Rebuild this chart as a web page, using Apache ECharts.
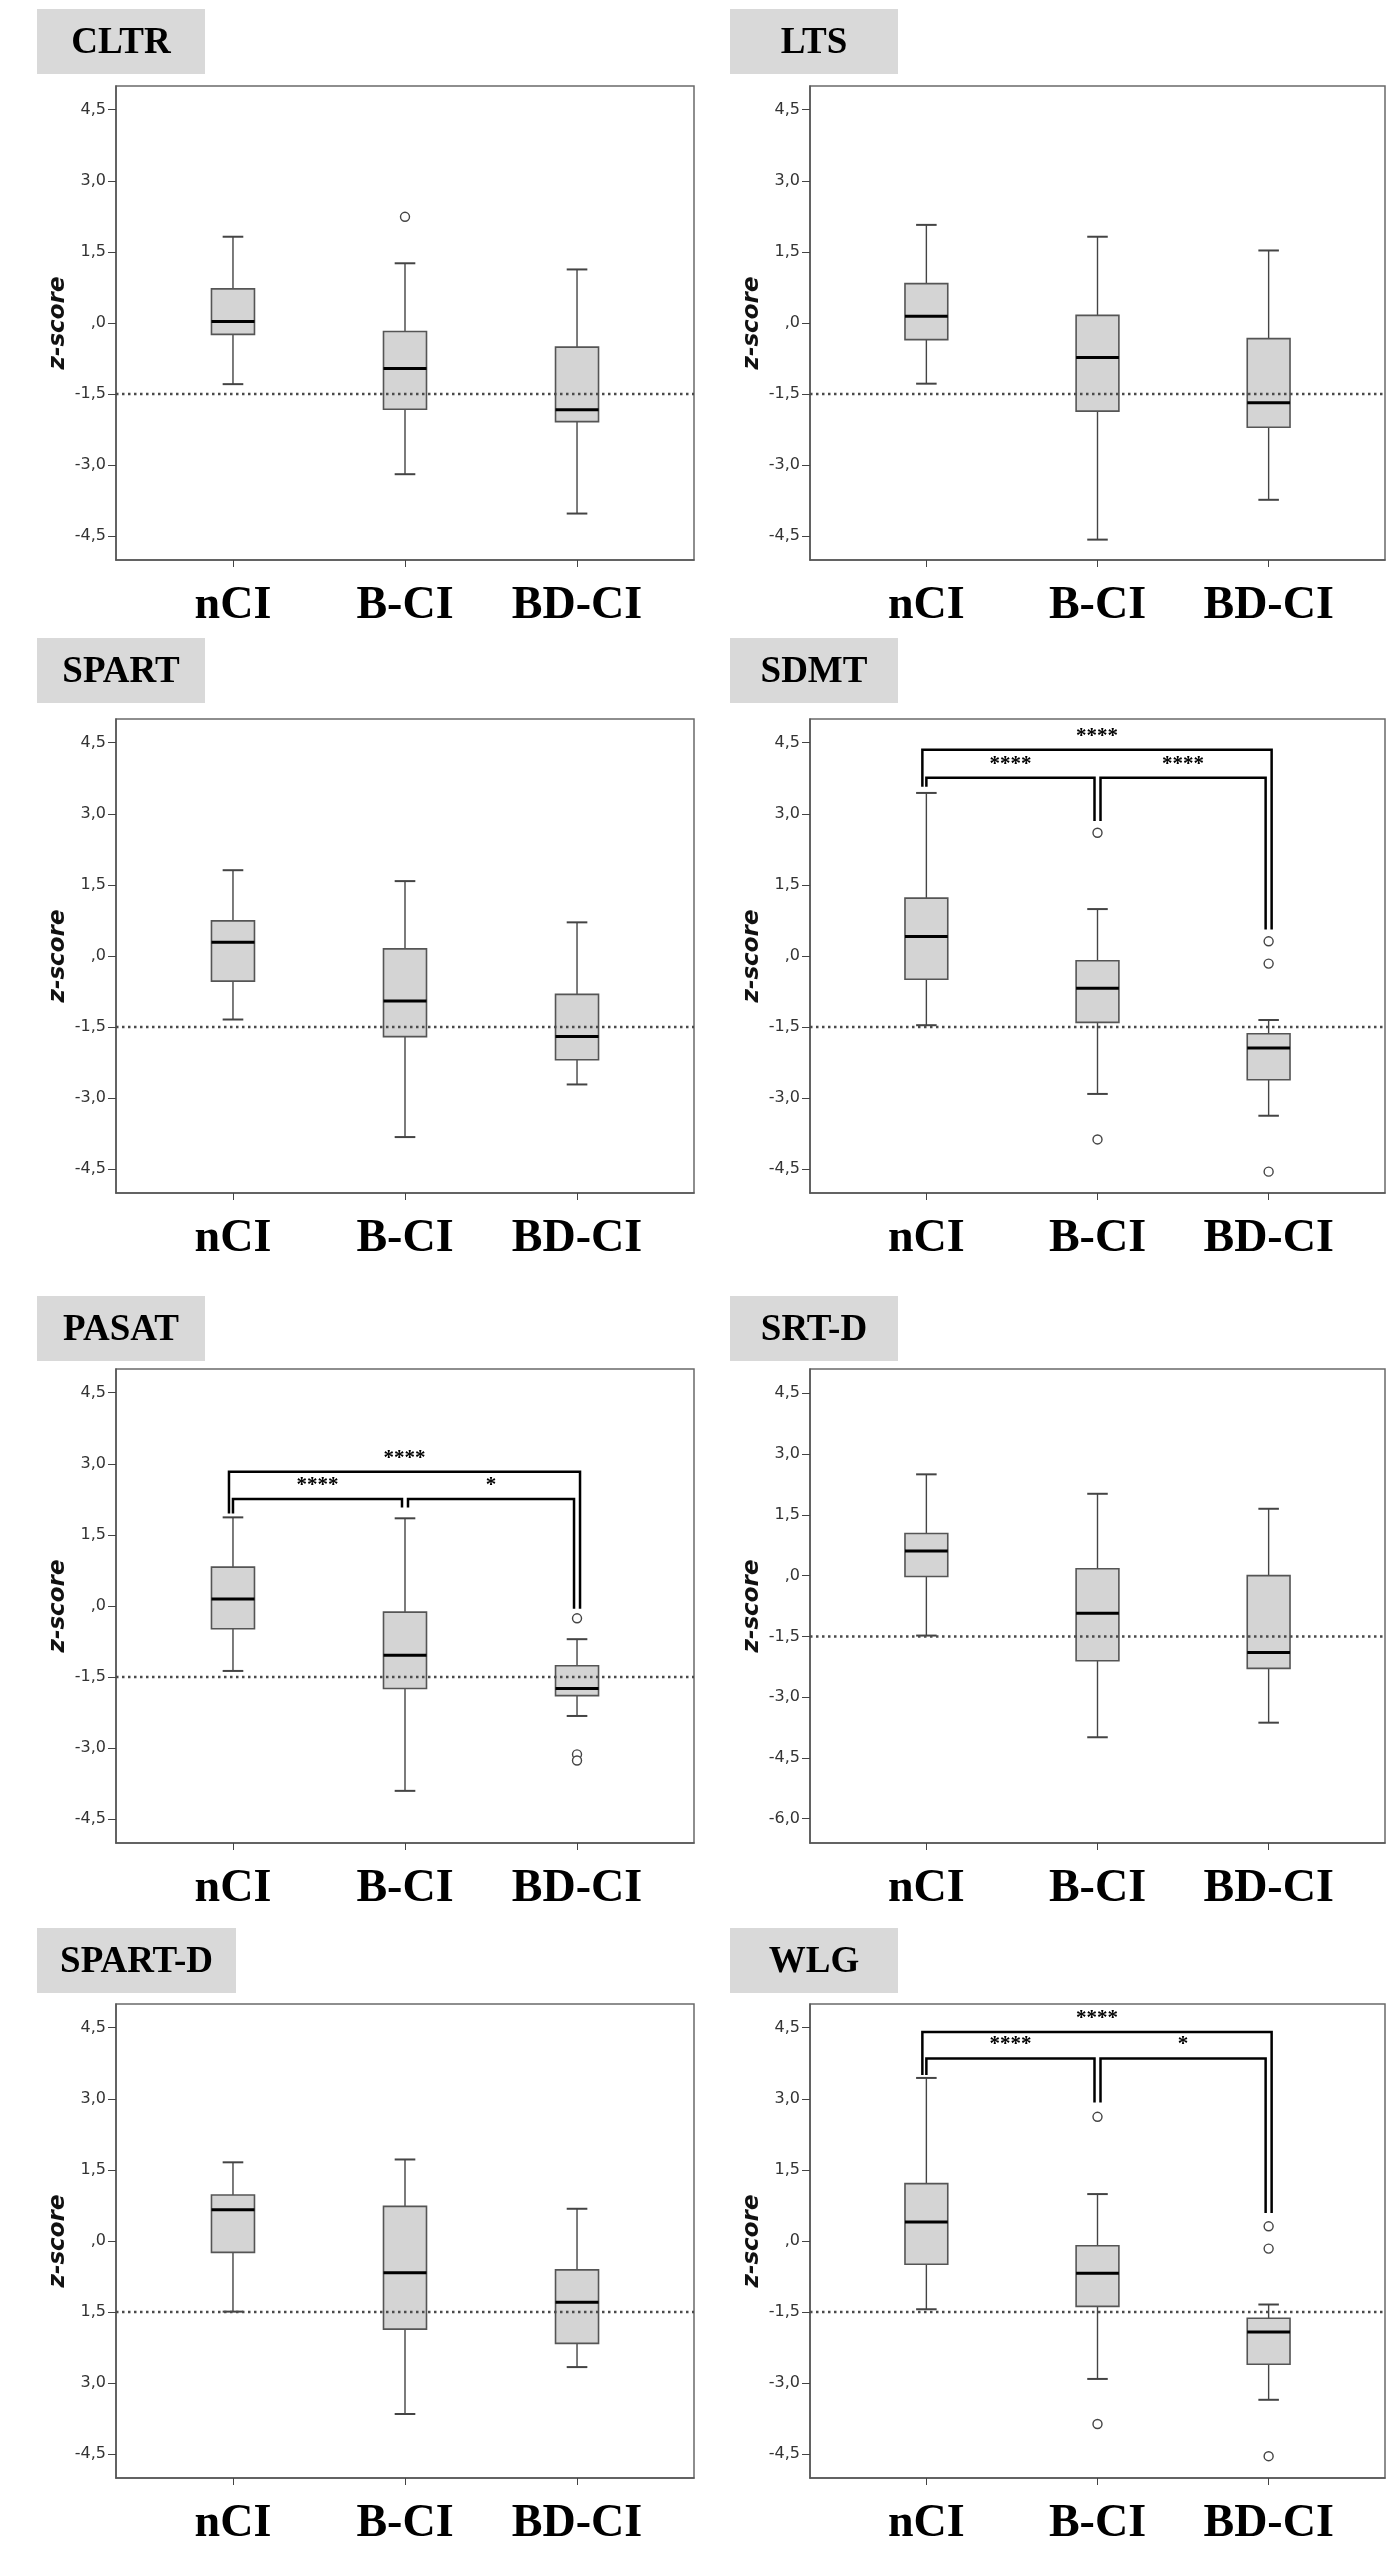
<!DOCTYPE html>
<html lang="en">
<head>
<meta charset="UTF-8">
<title>z-score boxplots</title>
<script src="https://cdn.jsdelivr.net/npm/echarts@6/dist/echarts.min.js"></script>
<style>
    body { margin: 0; background: #fff; }
    #main { width: 1400px; height: 2550px; }
</style>
</head>
<body>
<div id="main"></div>
<script>
var groups = ['nCI', 'B-CI', 'BD-CI'];
var tests = ['CLTR', 'LTS', 'SPART', 'SDMT', 'PASAT', 'SRT-D', 'SPART-D', 'WLG'];

// [groupIndex, min, Q1, median, Q3, max]
var cltrBox = [[0, -1.29, -0.24, 0.03, 0.72, 1.82], [1, -3.19, -1.82, -0.96, -0.18, 1.26], [2, -4.02, -2.08, -1.83, -0.51, 1.13]];
var ltsBox = [[0, -1.28, -0.35, 0.14, 0.83, 2.07], [1, -4.57, -1.86, -0.73, 0.16, 1.82], [2, -3.73, -2.20, -1.68, -0.33, 1.53]];
var spartBox = [[0, -1.34, -0.53, 0.29, 0.74, 1.81], [1, -3.82, -1.70, -0.95, 0.15, 1.58], [2, -2.71, -2.19, -1.70, -0.81, 0.71]];
var sdmtBox = [[0, -1.46, -0.49, 0.41, 1.22, 3.44], [1, -2.91, -1.40, -0.68, -0.10, 0.99], [2, -3.37, -2.61, -1.94, -1.64, -1.35]];
var pasatBox = [[0, -1.37, -0.48, 0.15, 0.82, 1.87], [1, -3.90, -1.74, -1.04, -0.13, 1.85], [2, -2.32, -1.89, -1.74, -1.26, -0.70]];
var srtdBox = [[0, -1.48, -0.02, 0.61, 1.04, 2.50], [1, -3.99, -2.10, -0.93, 0.17, 2.02], [2, -3.63, -2.29, -1.90, 0.00, 1.65]];
var spartdBox = [[0, -1.49, -0.24, 0.66, 0.97, 1.66], [1, -3.65, -1.86, -0.67, 0.73, 1.72], [2, -2.66, -2.16, -1.29, -0.61, 0.68]];
var wlgBox = [[0, -1.44, -0.49, 0.40, 1.21, 3.44], [1, -2.91, -1.38, -0.68, -0.10, 0.99], [2, -3.35, -2.60, -1.92, -1.63, -1.34]];

// [groupIndex, value]
var cltrOut = [[1, 2.24]];
var sdmtOut = [[1, 2.60], [1, -3.87], [2, 0.31], [2, -0.16], [2, -4.55]];
var pasatOut = [[2, -0.26], [2, -3.13], [2, -3.26]];
var wlgOut = [[1, 2.62], [1, -3.86], [2, 0.31], [2, -0.16], [2, -4.54]];

// significance brackets: [fromGroup, toGroup, barValue, fromEndValue, toEndValue]
var sdmtBr = [[0, 2, 4.35, 3.57, 0.56], [0, 1, 3.76, 3.57, 2.85], [1, 2, 3.76, 2.85, 0.56]];
var sdmtStars = ['****', '****', '****'];
var pasatBr = [[0, 2, 2.83, 1.95, -0.06], [0, 1, 2.26, 1.95, 2.08], [1, 2, 2.26, 2.08, -0.06]];
var pasatStars = ['****', '****', '*'];
var wlgBr = [[0, 2, 4.41, 3.50, 0.59], [0, 1, 3.85, 3.50, 2.92], [1, 2, 3.85, 2.92, 0.59]];
var wlgStars = ['****', '****', '*'];

var cutoff = -1.5;
var zRange = [-5, 5];
var srtdRange = [-6.6, 5.1];
var zTicks = [4.5, 3, 1.5, 0, -1.5, -3, -4.5];
var zTickText = ['4,5', '3,0', '1,5', ',0', '-1,5', '-3,0', '-4,5'];
var srtdTicks = [4.5, 3, 1.5, 0, -1.5, -3, -4.5, -6];
var srtdTickText = ['4,5', '3,0', '1,5', ',0', '-1,5', '-3,0', '-4,5', '-6,0'];
var spartdTickText = ['4,5', '3,0', '1,5', ',0', '1,5', '3,0', '-4,5'];

var boxes = [cltrBox, ltsBox, spartBox, sdmtBox, pasatBox, srtdBox, spartdBox, wlgBox];
var outliers = [cltrOut, [], [], sdmtOut, pasatOut, [], [], wlgOut];
var brackets = [null, null, null, sdmtBr, pasatBr, null, null, wlgBr];
var stars = [null, null, null, sdmtStars, pasatStars, null, null, wlgStars];
var ranges = [zRange, zRange, zRange, zRange, zRange, srtdRange, zRange, zRange];
var ticks = [zTicks, zTicks, zTicks, zTicks, zTicks, srtdTicks, zTicks, zTicks];
var tickText = [zTickText, zTickText, zTickText, zTickText, zTickText, srtdTickText, spartdTickText, zTickText];

// layout
var xExtent = [-0.68, 2.68];
var colX = [116, 810], colW = [578, 575];
var rowY = [86, 719, 1369, 2004], rowH = 474;
var tagX = [37, 730], tagY = [9, 638, 1296, 1928], tagH = 65;

function renderBox(params, api) {
    var x = api.value(0);
    var pMin = api.coord([x, api.value(1)]);
    var pQ1 = api.coord([x, api.value(2)]);
    var pMed = api.coord([x, api.value(3)]);
    var pQ3 = api.coord([x, api.value(4)]);
    var pMax = api.coord([x, api.value(5)]);
    var unit = api.size([1, 0])[0];
    var half = unit * 0.125, cap = unit * 0.06;
    var cx = pMed[0];
    var ws = { stroke: '#444', lineWidth: 1.4 };
    var cs = { stroke: '#444', lineWidth: 2 };
    return {
        type: 'group',
        children: [
            { type: 'line', shape: { x1: cx, y1: pMax[1], x2: cx, y2: pQ3[1] }, style: ws },
            { type: 'line', shape: { x1: cx, y1: pQ1[1], x2: cx, y2: pMin[1] }, style: ws },
            { type: 'line', shape: { x1: cx - cap, y1: pMax[1], x2: cx + cap, y2: pMax[1] }, style: cs },
            { type: 'line', shape: { x1: cx - cap, y1: pMin[1], x2: cx + cap, y2: pMin[1] }, style: cs },
            { type: 'rect', shape: { x: cx - half, y: pQ3[1], width: half * 2, height: pQ1[1] - pQ3[1] },
              style: { fill: '#d4d4d4', stroke: '#555', lineWidth: 1.6 } },
            { type: 'line', shape: { x1: cx - half, y1: pMed[1], x2: cx + half, y2: pMed[1] },
              style: { stroke: '#000', lineWidth: 3 } }
        ]
    };
}

function bracketRenderer(list, labels) {
    return function (params, api) {
        var b = list[params.dataIndex];
        var a = api.coord([b[0], b[2]]);
        var c = api.coord([b[1], b[2]]);
        var aEnd = api.coord([b[0], b[3]]);
        var cEnd = api.coord([b[1], b[4]]);
        var outer = b[1] - b[0] > 1;
        var x1 = a[0] + (outer ? -4 : (b[0] > 0 ? 3 : 0));
        var x2 = c[0] + (outer ? 3 : -3);
        return {
            type: 'group',
            children: [
                { type: 'polyline', shape: { points: [[x1, aEnd[1]], [x1, a[1]], [x2, a[1]], [x2, cEnd[1]]] },
                  style: { stroke: '#000', lineWidth: 2.5, fill: null } },
                { type: 'text', x: (x1 + x2) / 2, y: a[1] - 3,
                  style: { text: labels[params.dataIndex], align: 'center', verticalAlign: 'bottom',
                           font: 'bold 21px "Liberation Serif"', fill: '#000' } }
            ]
        };
    };
}

var grids = [], xAxes = [], yAxes = [], series = [], graphics = [];

tests.forEach(function (name, i) {
    var col = i % 2, row = Math.floor(i / 2);
    grids.push({
        left: colX[col], top: rowY[row], width: colW[col], height: rowH,
        show: true, borderColor: '#6a6a6a', borderWidth: 1.5
    });
    xAxes.push({
        gridIndex: i, type: 'value', min: xExtent[0], max: xExtent[1],
        splitLine: { show: false },
        axisLine: { show: true, onZero: false, lineStyle: { color: '#555', width: 1.5 } },
        axisTick: { show: true, customValues: [0, 1, 2], length: 7, lineStyle: { color: '#444' } },
        axisLabel: {
            customValues: [0, 1, 2], margin: 23,
            formatter: function (v) { return groups[Math.round(v)]; },
            fontFamily: 'Liberation Serif', fontWeight: 'bold', fontSize: 46, color: '#000'
        }
    });
    var tv = ticks[i], tt = tickText[i];
    yAxes.push({
        gridIndex: i, type: 'value', min: ranges[i][0], max: ranges[i][1],
        name: 'z-score', nameLocation: 'middle', nameGap: 46, nameRotate: 90,
        nameTextStyle: { fontFamily: 'DejaVu Sans', fontWeight: 'bold', fontStyle: 'italic', fontSize: 23, color: '#111' },
        splitLine: { show: false },
        axisLine: { show: true, onZero: false, lineStyle: { color: '#555', width: 1.5 } },
        axisTick: { show: true, customValues: tv, length: 8, lineStyle: { color: '#444' } },
        axisLabel: {
            customValues: tv, margin: 10,
            formatter: function (v) {
                for (var k = 0; k < tv.length; k++) { if (Math.abs(tv[k] - v) < 1e-6) return tt[k]; }
                return '';
            },
            fontFamily: 'DejaVu Sans', fontSize: 16, color: '#333'
        }
    });
    series.push({
        type: 'custom', xAxisIndex: i, yAxisIndex: i, silent: true,
        renderItem: renderBox, encode: { x: 0, y: [1, 2, 3, 4, 5] },
        data: boxes[i], z: 2
    });
    series.push({
        type: 'line', xAxisIndex: i, yAxisIndex: i, silent: true, showSymbol: false,
        data: [[xExtent[0], cutoff], [xExtent[1], cutoff]],
        lineStyle: { type: [2.5, 3.5], width: 2.5, color: '#4a4a4a' }, z: 3
    });
    if (outliers[i].length) {
        series.push({
            type: 'scatter', xAxisIndex: i, yAxisIndex: i, silent: true,
            symbol: 'circle', symbolSize: 9, data: outliers[i],
            itemStyle: { color: '#fff', borderColor: '#444', borderWidth: 1.4, opacity: 1 }, z: 4
        });
    }
    if (brackets[i]) {
        series.push({
            type: 'custom', xAxisIndex: i, yAxisIndex: i, silent: true,
            renderItem: bracketRenderer(brackets[i], stars[i]),
            encode: { x: [0, 1], y: [2, 3, 4] },
            data: brackets[i], z: 5
        });
    }
    var w = name.length > 6 ? 199 : 168;
    graphics.push({
        type: 'rect', left: tagX[col], top: tagY[row],
        shape: { width: w, height: tagH }, style: { fill: '#d9d9d9' }
    });
    graphics.push({
        type: 'text', x: tagX[col] + w / 2, y: tagY[row] + tagH / 2 + 2,
        style: { text: name, align: 'center', verticalAlign: 'middle',
                 font: 'bold 37px "Liberation Serif"', fill: '#000' }
    });
});

var chart = echarts.init(document.getElementById('main'));
chart.setOption({
    backgroundColor: '#fff',
    animation: false,
    grid: grids,
    xAxis: xAxes,
    yAxis: yAxes,
    series: series,
    graphic: graphics
});
</script>
</body>
</html>
